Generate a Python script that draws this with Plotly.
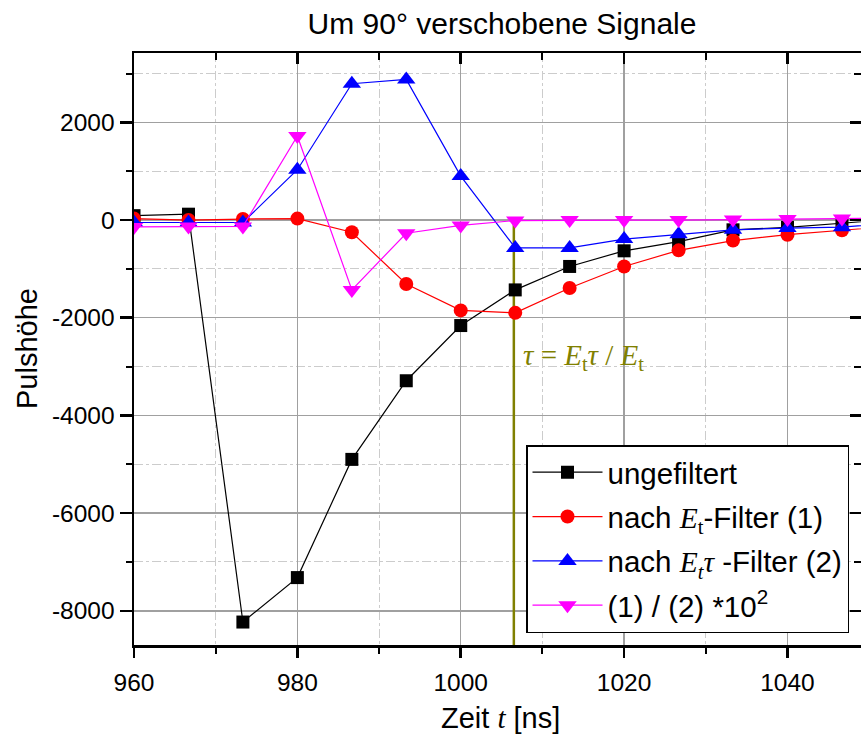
import plotly.graph_objects as go

# ---- data ----
t_ns = [960.0, 966.67, 973.33, 980.0, 986.67, 993.33, 1000.0, 1006.67,
        1013.33, 1020.0, 1026.67, 1033.33, 1040.0, 1046.67, 1053.33]
ungefiltert = [90, 120, -8230, -7320, -4900, -3290, -2160, -1430,
               -950, -630, -440, -200, -150, -70, 20]
filter_1 = [30, 0, 20, 30, -250, -1310, -1850, -1900,
            -1390, -950, -620, -420, -300, -210, -120]
filter_2 = [-50, -50, -50, 1030, 2790, 2880, 900, -570,
            -570, -390, -290, -200, -165, -145, -60]
ratio_12 = [-140, -130, -130, 1720, -1430, -270, -110, -10,
            0, 0, 0, 10, 20, 30, 40]
tau_line_x = 1006.5

y_tickvals = [2000, 0, -2000, -4000, -6000, -8000]
y_ticktext = ["2000", "0", "-2000", "-4000", "-6000", "-8000"]
x_tickvals = [960, 980, 1000, 1020, 1040]
x_ticktext = ["960", "980", "1000", "1020", "1040"]

X_RANGE = [960, 1049]
Y_RANGE = [-8700, 3420]

SERIF = "Liberation Serif, Times New Roman, serif"
SANS = "Arial, Liberation Sans, sans-serif"

names = [
    "ungefiltert",
    "nach " + f"<span style='font-family:{SERIF}'><i>E</i><sub>t</sub></span>" + "-Filter (1)",
    "nach " + f"<span style='font-family:{SERIF}'><i>E</i><sub><i>t</i></sub><i>τ</i></span>" + " -Filter (2)",
    "(1) / (2) *10<sup>2</sup>",
]
series = [ungefiltert, filter_1, filter_2, ratio_12]
colors = ["#000000", "#ff0000", "#0000ff", "#ff00ff"]
symbols = ["square", "circle", "triangle-up", "triangle-down"]
sizes = [13, 14, 16, 16]

fig = go.Figure()
for i, (name, ys) in enumerate(zip(names, series)):
    fig.add_trace(go.Scatter(
        x=t_ns, y=ys, name=name, mode="lines+markers",
        line=dict(color=colors[i], width=1.2),
        marker=dict(symbol=symbols[i], size=sizes[i], color=colors[i],
                    line=dict(width=0)),
        legendgroup=f"g{i}",
    ))

# dummy trace for mirrored axes (top/right with inward ticks)
fig.add_trace(go.Scatter(x=[None], y=[None], xaxis="x2", yaxis="y2",
                         showlegend=False, hoverinfo="skip"))

fig.add_shape(type="line", xref="x", yref="y", x0=tau_line_x, x1=tau_line_x,
              y0=0, y1=Y_RANGE[0], line=dict(color="#808000", width=2.5),
              layer="between")

fig.add_annotation(
    x=1007.4, y=-2800, xref="x", yref="y", xanchor="left", yanchor="middle",
    text="<i>τ</i> = <i>E</i><sub>t</sub><i>τ</i> / <i>E</i><sub>t</sub>",
    showarrow=False, font=dict(family=SERIF, size=29, color="#808000"))

# axis titles
fig.add_annotation(
    x=(27 - 134) / 727, y=0.5, xref="paper", yref="paper", text="Pulshöhe",
    textangle=-90, showarrow=False, xanchor="center", yanchor="middle",
    font=dict(family=SANS, size=29, color="#000000"))

fig.add_annotation(
    x=(500 - 134) / 727, y=-(718 - 645) / 592, xref="paper", yref="paper",
    text=f"Zeit <span style='font-family:{SERIF}'><i>t</i></span> [ns]",
    showarrow=False, xanchor="center", yanchor="middle",
    font=dict(family=SANS, size=29, color="#000000"))

grid_major = "#a0a0a0"
grid_minor = "#cccccc"

common_axis = dict(automargin=False, showline=True, linecolor="black",
                   linewidth=2.5, zeroline=False, tickcolor="black")

fig.update_layout(
    template="none",
    width=861, height=740,
    margin=dict(l=134, r=0, t=53, b=95, pad=0),
    paper_bgcolor="white", plot_bgcolor="white",
    hovermode=False,
    title=dict(text="Um 90° verschobene Signale", x=502 / 861, xanchor="center",
               y=1 - 23 / 740, yanchor="middle", yref="container",
               font=dict(family=SANS, size=30, color="#000000")),
    font=dict(family=SANS, color="#000000"),
    xaxis=dict(
        **common_axis,
        range=X_RANGE, tickvals=x_tickvals, ticktext=x_ticktext,
        ticks="outside", ticklen=10, tickwidth=2.5,
        tickfont=dict(family=SANS, size=24.5, color="black"),
        ticklabelstandoff=4,
        showgrid=True, gridcolor=grid_major, gridwidth=1.5,
        minor=dict(dtick=10, tick0=960, ticks="outside", ticklen=6, tickwidth=2,
                   tickcolor="black", showgrid=True, gridcolor=grid_minor,
                   griddash="dashdot", gridwidth=1),
    ),
    yaxis=dict(
        **common_axis,
        range=Y_RANGE, tickvals=y_tickvals, ticktext=y_ticktext,
        ticks="outside", ticklen=12, tickwidth=2.5,
        tickfont=dict(family=SANS, size=24.5, color="black"),
        ticklabelstandoff=0,
        showgrid=True, gridcolor=grid_major, gridwidth=1.5,
        minor=dict(dtick=1000, tick0=0, ticks="outside", ticklen=6, tickwidth=2,
                   tickcolor="black", showgrid=True, gridcolor=grid_minor,
                   griddash="dashdot", gridwidth=1),
    ),
    xaxis2=dict(
        **common_axis,
        range=X_RANGE, overlaying="x", side="top", anchor="y2",
        tickvals=x_tickvals, showticklabels=False,
        ticks="inside", ticklen=11, tickwidth=2.5,
        showgrid=False,
        minor=dict(dtick=10, tick0=960, ticks="inside", ticklen=7, tickwidth=2,
                   tickcolor="black", showgrid=False),
    ),
    yaxis2=dict(
        **common_axis,
        range=Y_RANGE, overlaying="y", side="right", anchor="x2",
        tickvals=y_tickvals, showticklabels=False,
        ticks="inside", ticklen=11, tickwidth=2.5,
        showgrid=False,
        minor=dict(dtick=1000, tick0=0, ticks="inside", ticklen=7, tickwidth=2,
                   tickcolor="black", showgrid=False),
    ),
    legend=dict(
        x=(526 - 134) / 727, y=(645 - 445) / 592, xanchor="left", yanchor="top",
        bgcolor="white", bordercolor="black", borderwidth=1.5,
        font=dict(family=SANS, size=29.5, color="black"),
        itemwidth=70, tracegroupgap=3, itemclick=False,
    ),
)

fig.write_html("out.html",
               config={"displayModeBar": False, "staticPlot": True},
               post_script="document.body.style.margin='0px';"
                           "document.body.style.overflow='hidden';")
